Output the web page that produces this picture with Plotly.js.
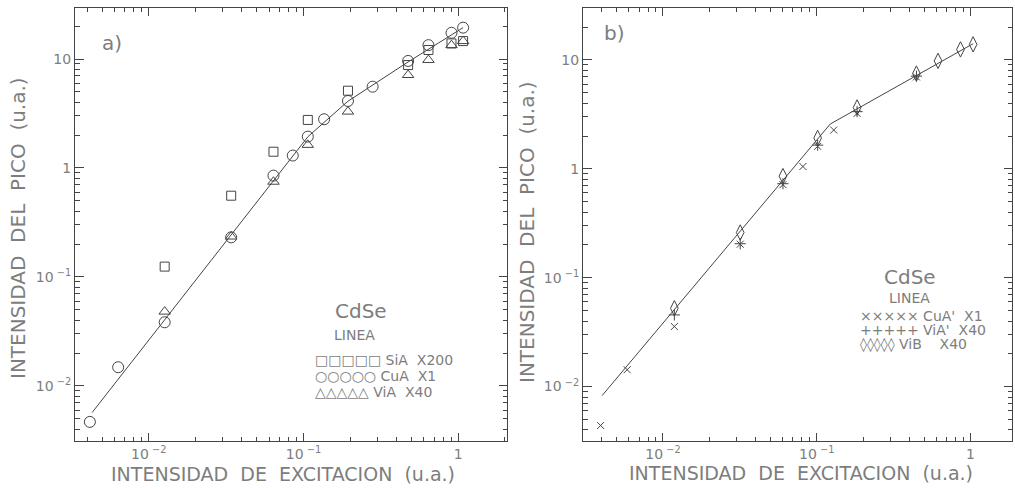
<!DOCTYPE html>
<html>
<head>
<meta charset="utf-8">
<script src="https://cdn.plot.ly/plotly-3.0.1.min.js"></script>
<style>html,body{margin:0;padding:0;background:#fff;}#chart{width:1015px;height:488px;}</style>
</head>
<body>
<div id="chart"></div>
<script>
// ---------- Panel a) data ----------
const aSiA_x = [0.01267, 0.0341, 0.064, 0.1067, 0.194, 0.475, 0.643, 0.906, 1.077];
const aSiA_y = [0.1245, 0.557, 1.41, 2.76, 5.12, 8.8, 12.1, 13.9, 14.6];
const aCuA_x = [0.00416, 0.00634, 0.01267, 0.0341, 0.064, 0.0853, 0.1067, 0.136, 0.194, 0.28, 0.475, 0.643, 0.906, 1.077];
const aCuA_y = [0.00468, 0.01486, 0.0384, 0.231, 0.851, 1.30, 1.94, 2.80, 4.12, 5.57, 9.6, 13.4, 17.4, 19.4];
const aViA_x = [0.01267, 0.0341, 0.064, 0.1067, 0.194, 0.475, 0.643, 0.906, 1.077];
const aViA_y = [0.0481, 0.235, 0.748, 1.63, 3.29, 7.13, 9.8, 13.4, 14.6];
const aFit_x = [0.0043, 0.0341, 0.107, 0.194, 0.475, 1.077];
const aFit_y = [0.0057, 0.24, 1.94, 4.1, 9.4, 19.4];

// ---------- Panel b) data ----------
const bCuA_x = [0.00393, 0.00585, 0.01186, 0.0318, 0.0603, 0.0813, 0.1014, 0.129, 0.183, 0.445];
const bCuA_y = [0.00439, 0.01428, 0.0356, 0.203, 0.715, 1.05, 1.61, 2.27, 3.23, 6.98];
const bViA_x = [0.01186, 0.0318, 0.0603, 0.1014, 0.183, 0.445];
const bViA_y = [0.0455, 0.205, 0.73, 1.65, 3.35, 7.1];
const bViB_x = [0.01186, 0.0318, 0.0603, 0.1014, 0.183, 0.445, 0.615, 0.861, 1.04];
const bViB_y = [0.0524, 0.26, 0.857, 1.92, 3.66, 7.5, 9.8, 12.5, 13.9];
const bFit_x = [0.00402, 0.1225, 1.04];
const bFit_y = [0.00826, 2.58, 14.1];

// ---------- tick labels ----------
const xTickVals = [0.01, 0.1, 1];
const xTickText = ['10<sup> \u22122</sup>', '10<sup> \u22121</sup>', '1'];
const yTickVals = [0.01, 0.1, 1, 10];
const yTickText = ['10<sup> \u22122</sup>', '10<sup> \u22121</sup>', '1', '10'];

const minorVals = [];
for (let d = -3; d <= 1; d++) for (let k = 2; k <= 9; k++) minorVals.push(k * Math.pow(10, d));

const INK = '#444444';
const TICK = '#444444';
const TXT = '#7d7d7d';
const FONT = 'DejaVu Sans, sans-serif';

function mk(x, y, xa, ya, symbol, size) {
  return {x: x, y: y, xaxis: xa, yaxis: ya, type: 'scatter', mode: 'markers',
    marker: {symbol: symbol, size: size, color: INK, line: {color: INK, width: 1}},
    showlegend: false, hoverinfo: 'skip'};
}
function reg(xa, ya) { return {x: [], y: [], xaxis: xa, yaxis: ya, mode: 'markers', showlegend: false}; }

const traces = [
  {x: aFit_x, y: aFit_y, xaxis: 'x', yaxis: 'y', mode: 'lines', line: {color: INK, width: 1}, showlegend: false},
  mk(aSiA_x, aSiA_y, 'x', 'y', 'square-open', 9),
  mk(aViA_x, aViA_y, 'x', 'y', 'triangle-up-open', 10),
  mk(aCuA_x, aCuA_y, 'x', 'y', 'circle-open', 11),
  {x: bFit_x, y: bFit_y, xaxis: 'x2', yaxis: 'y2', mode: 'lines', line: {color: INK, width: 1}, showlegend: false},
  mk(bCuA_x, bCuA_y, 'x2', 'y2', 'x-thin-open', 7),
  mk(bViA_x, bViA_y, 'x2', 'y2', 'cross-thin-open', 8),
  mk(bViB_x, bViB_y, 'x2', 'y2', 'diamond-tall-open', 11),
  reg('x3', 'y3'), reg('x4', 'y4'), reg('x3', 'y5'), reg('x3', 'y6'), reg('x4', 'y7'), reg('x4', 'y8'),
  reg('x3', 'y9'), reg('x3', 'y10'), reg('x4', 'y11'), reg('x4', 'y12')
];

function baseAxis(dom, range, vals, text) {
  return {type: 'log', domain: dom, range: range, showline: true, linecolor: INK, linewidth: 1, mirror: 'ticks',
    ticks: 'inside', ticklen: 8, tickcolor: TICK, tickwidth: 1, showgrid: false, zeroline: false,
    tickmode: 'array', tickvals: vals, ticktext: text,
    tickfont: {family: FONT, size: 14, color: TXT}, automargin: false};
}
function tickAxis(dom, range, over, anchor, vals, len, side) {
  const o = {type: 'log', domain: dom, range: range, overlaying: over, anchor: anchor, showline: false,
    mirror: 'ticks', ticks: 'inside', ticklen: len, tickcolor: TICK, tickwidth: 1, showgrid: false, zeroline: false,
    tickmode: 'array', tickvals: vals, showticklabels: false, automargin: false};
  if (side) o.side = side;
  return o;
}
// free-positioned axis on the left frame whose ticks point into the plot
function leftTicks(dom, range, over, pos, vals, len) {
  return {type: 'log', domain: dom, range: range, overlaying: over, anchor: 'free', position: pos, side: 'right',
    showline: false, ticks: 'outside', ticklen: len, tickcolor: TICK, tickwidth: 1, showgrid: false, zeroline: false,
    tickmode: 'array', tickvals: vals, showticklabels: false, automargin: false};
}

function ann(text, px, py, size, opts) {
  return Object.assign({text: text, xref: 'paper', yref: 'paper', x: px / 1015, y: 1 - py / 488,
    xanchor: 'center', yanchor: 'middle', showarrow: false,
    font: {family: FONT, size: size, color: TXT}}, opts || {});
}
const NB = '\u00a0';
const xTitle = 'INTENSIDAD' + NB + NB + 'DE' + NB + NB + 'EXCITACION' + NB + NB + '(u.a.)';
const yTitle = 'INTENSIDAD' + NB + NB + 'DEL' + NB + NB + 'PICO' + NB + NB + '(u.a.)';

const annotations = [
  ann(xTitle, 283, 474, 19),
  ann(xTitle, 801, 473, 19),
  ann(yTitle, 18, 228, 20, {textangle: -90}),
  ann(yTitle, 527, 232, 20, {textangle: -90}),
  ann('a)', 112, 43, 20),
  ann('b)', 614, 33, 20),
  ann('CdSe', 361, 311, 20),
  ann('LINEA', 354, 335, 14),
  ann('\u25A1\u25A1\u25A1\u25A1\u25A1 SiA' + NB + NB + 'X200', 313, 360, 14, {xanchor: 'left'}),
  ann('\u25CB\u25CB\u25CB\u25CB\u25CB CuA' + NB + NB + 'X1', 313, 376, 14, {xanchor: 'left'}),
  ann('\u25B3\u25B3\u25B3\u25B3\u25B3 ViA' + NB + NB + 'X40', 313, 392, 14, {xanchor: 'left'}),
  ann('CdSe', 910, 277, 20),
  ann('LINEA', 909, 298, 14),
  ann('\u00D7\u00D7\u00D7\u00D7\u00D7 CuA\'' + NB + NB + 'X1', 858, 316, 14, {xanchor: 'left'}),
  ann('+++++ ViA\'' + NB + NB + 'X40', 858, 330, 14, {xanchor: 'left'}),
  ann('\u25CA\u25CA\u25CA\u25CA\u25CA ViB' + NB + NB + NB + NB + 'X40', 858, 344, 14, {xanchor: 'left'})
];

const yDom = [47 / 488, 480 / 488];
const xDomA = [75 / 1015, 507 / 1015], xDomB = [583 / 1015, 1012 / 1015];
const xRangeA = [-2.477, 0.316], xRangeB = [-2.52, 0.27];
const yRangeA = [-2.505, 1.468], yRangeB = [-2.5, 1.477];

const layout = {
  width: 1015, height: 488,
  margin: {l: 0, r: 0, t: 0, b: 0},
  paper_bgcolor: '#fff', plot_bgcolor: 'rgba(0,0,0,0)',
  showlegend: false,
  xaxis: Object.assign(baseAxis(xDomA, xRangeA, xTickVals, xTickText), {anchor: 'y'}),
  yaxis: Object.assign(baseAxis(yDom, yRangeA, yTickVals, yTickText), {anchor: 'x', ticksuffix: NB + NB}),
  xaxis2: Object.assign(baseAxis(xDomB, xRangeB, xTickVals, xTickText), {anchor: 'y2'}),
  yaxis2: Object.assign(baseAxis(yDom, yRangeB, yTickVals, yTickText), {anchor: 'x2', ticksuffix: NB + NB}),
  xaxis3: tickAxis(xDomA, xRangeA, 'x', 'y', minorVals, 4),
  yaxis3: tickAxis(yDom, yRangeA, 'y', 'x', minorVals, 4, 'left'),
  xaxis4: tickAxis(xDomB, xRangeB, 'x2', 'y2', minorVals, 4),
  yaxis4: tickAxis(yDom, yRangeB, 'y2', 'x2', minorVals, 4, 'left'),
  yaxis5: tickAxis(yDom, yRangeA, 'y', 'x', yTickVals, 8, 'right'),
  yaxis6: tickAxis(yDom, yRangeA, 'y', 'x', minorVals, 4, 'right'),
  yaxis7: tickAxis(yDom, yRangeB, 'y2', 'x2', yTickVals, 8, 'right'),
  yaxis8: tickAxis(yDom, yRangeB, 'y2', 'x2', minorVals, 4, 'right'),
  yaxis9: leftTicks(yDom, yRangeA, 'y', xDomA[0], yTickVals, 8),
  yaxis10: leftTicks(yDom, yRangeA, 'y', xDomA[0], minorVals, 4),
  yaxis11: leftTicks(yDom, yRangeB, 'y2', xDomB[0], yTickVals, 8),
  yaxis12: leftTicks(yDom, yRangeB, 'y2', xDomB[0], minorVals, 4),
  annotations: annotations
};

Plotly.newPlot('chart', traces, layout, {staticPlot: true, displayModeBar: false});
</script>
</body>
</html>
